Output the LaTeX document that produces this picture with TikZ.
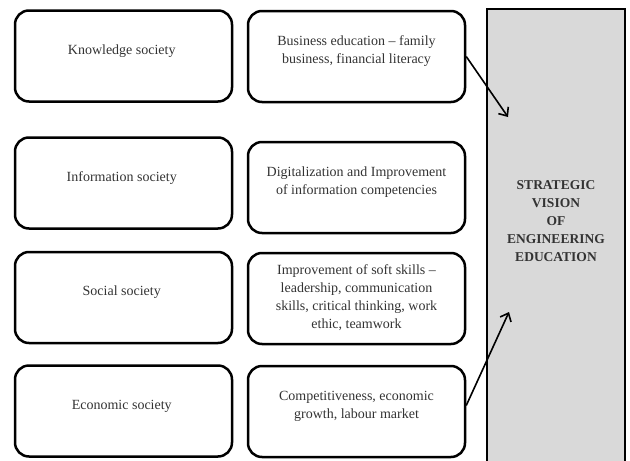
\documentclass[tikz,border=0pt]{standalone}
\usepackage{fontspec}
\setmainfont{Liberation Serif}
\usepackage{tikz}
\usetikzlibrary{arrows.meta}
\tikzset{
  every node/.style={
    font=\fontsize{14}{18}\selectfont,
    text=black!80
  },
  society/.style={
    shape=rectangle,
    rounded corners=14pt,
    draw=black,
    line width=2.5pt,
    minimum width=217pt,
    minimum height=91pt,
    align=center,
    text depth=13pt
  },
  vision/.style={
    shape=rectangle,
    draw=black,
    line width=2.5pt,
    fill=gray!30,
    minimum width=138pt,
    minimum height=480pt
  },
  vision title/.style={
    font=\fontsize{13.5}{18}\selectfont\bfseries,
    align=center
  },
  link/.style={
    -{Straight Barb[length=7pt,width=12pt]},
    line width=1.6pt
  }
}

\begin{document}
\begin{tikzpicture}[x=1pt,y=-1pt]
    \useasboundingbox (0,0) rectangle (630,461);
    \clip (0,0) rectangle (630,461);
    % societies
    \node [society] (knowledge) at (123.5,56) { Knowledge society };
    \node [society] (information) at (123.5,183) { Information society };
    \node [society] (social) at (123.5,297.5) { Social society };
    \node [society] (economic) at (123.5,411) { Economic society };
    % what each one asks of education
    \node [society] (business) at (356.5,56.5) {
      Business education – family\\business, financial literacy };
    \node [society] (digital) at (356.5,187.5) {
      Digitalization and Improvement\\of information competencies };
    \node [society,text depth=3pt] (softskills) at (356.5,298.5) {
      Improvement of soft skills –\\leadership, communication\\
      skills, critical thinking, work\\ethic, teamwork };
    \node [society] (market) at (356.5,411.5) {
      Competitiveness, economic\\growth, labour market };
    % vision
    \node [vision] (vision) at (556,249) {};
    \node [vision title] (title) at (556,221) {
      STRATEGIC\\VISION\\OF\\ENGINEERING\\EDUCATION };
    \coordinate (in top) at (508,117);
    \coordinate (in bottom) at (509,312);
    \draw [link] (business.east) -- (in top);
    \draw [link] ([yshift=6pt]market.east) -- (in bottom);
  \end{tikzpicture}
\end{document}
